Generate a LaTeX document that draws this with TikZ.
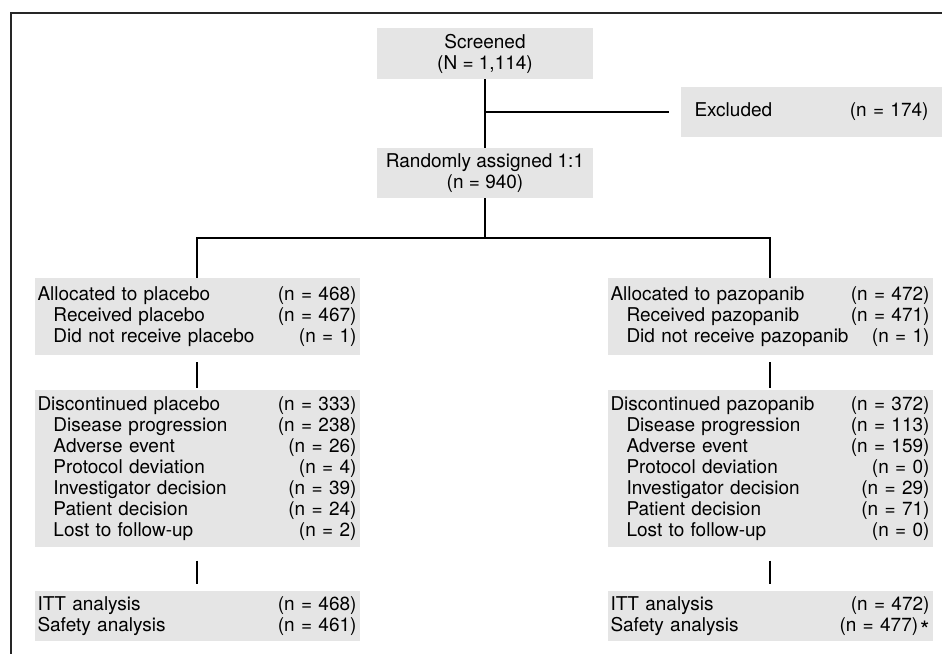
\documentclass[tikz,border=0pt]{standalone}
\usepackage{fontspec}
\setmainfont{TeX Gyre Heros}
\usetikzlibrary{positioning}
\newcommand{\numgap}{\hspace{0pt plus 1filll}}
\newcommand{\ind}{\hspace*{16pt}}

\begin{document}
\begin{tikzpicture}[x=1pt, y=-1pt, font=\fontsize{19}{21}\selectfont,
    shaded/.style={fill=black!10, inner xsep=3pt, inner ysep=0pt},
    armbox/.style={shaded, text width=319pt, align=left},
    link/.style={line width=2.5pt}]
            \useasboundingbox (0,0) rectangle (942,654);
            \draw [line width=1.5pt, black!85] (942,13) -- (11,13) -- (11,654);
            \node [shaded, align=center, minimum width=216pt, minimum height=51pt] (screened) at (485,53.5) {Screened\\(N = 1,114)};
            \node [shaded, align=center, minimum width=216pt, minimum height=50pt] (randomised) at (485,173) {Randomly assigned 1:1\\(n = 940)};
            \node [shaded, text width=234pt, align=left, inner xsep=13.5pt, minimum height=50pt] (excluded) at (811.5,112) {Excluded\numgap(n = 174)};
            \coordinate (split) at (485,238);
            \node [armbox, minimum height=77pt] (alloc_pl) at (197,316.5) {Allocated to placebo\numgap(n = 468)\\ \ind Received placebo\numgap(n = 467)\\ \ind Did not receive placebo\numgap(n = 1)};
            \node [armbox, minimum height=157pt, below=35pt of alloc_pl] (disc_pl) {Discontinued placebo\numgap(n = 333)\\ \ind Disease progression\numgap(n = 238)\\ \ind Adverse event\numgap(n = 26)\\ \ind Protocol deviation\numgap(n = 4)\\ \ind Investigator decision\numgap(n = 39)\\ \ind Patient decision\numgap(n = 24)\\ \ind Lost to follow-up\numgap(n = 2)};
            \node [armbox, minimum height=50pt, below=43pt of disc_pl] (analysis_pl) {ITT analysis\numgap(n = 468)\\Safety analysis\numgap(n = 461)};
            \node [armbox, minimum height=77pt] (alloc_pz) at (770,316.5) {Allocated to pazopanib\numgap(n = 472)\\ \ind Received pazopanib\numgap(n = 471)\\ \ind Did not receive pazopanib\numgap(n = 1)};
            \node [armbox, minimum height=157pt, below=35pt of alloc_pz] (disc_pz) {Discontinued pazopanib\numgap(n = 372)\\ \ind Disease progression\numgap(n = 113)\\ \ind Adverse event\numgap(n = 159)\\ \ind Protocol deviation\numgap(n = 0)\\ \ind Investigator decision\numgap(n = 29)\\ \ind Patient decision\numgap(n = 71)\\ \ind Lost to follow-up\numgap(n = 0)};
            \node [armbox, minimum height=50pt, below=43pt of disc_pz] (analysis_pz) {ITT analysis\numgap(n = 472)\\Safety analysis\numgap(n = 477)\hspace{2pt}\smash{\raisebox{-7pt}{\fontsize{24}{24}\selectfont *}}};
            \draw [link] (screened) -- (randomised);
            \draw [link, shorten >=12pt] (screened.south |- excluded.west) -- (excluded.west);
            \draw [link] (randomised) -- (split);
            \draw [link] (alloc_pl) |- (split) -| (alloc_pz);
            \draw [link, shorten <=7pt, shorten >=2pt] (alloc_pl) -- (disc_pl);
            \draw [link, shorten <=13pt, shorten >=7pt] (disc_pl) -- (analysis_pl);
            \draw [link, shorten <=7pt, shorten >=2pt] (alloc_pz) -- (disc_pz);
            \draw [link, shorten <=13pt, shorten >=7pt] (disc_pz) -- (analysis_pz);
        \end{tikzpicture}
\end{document}
